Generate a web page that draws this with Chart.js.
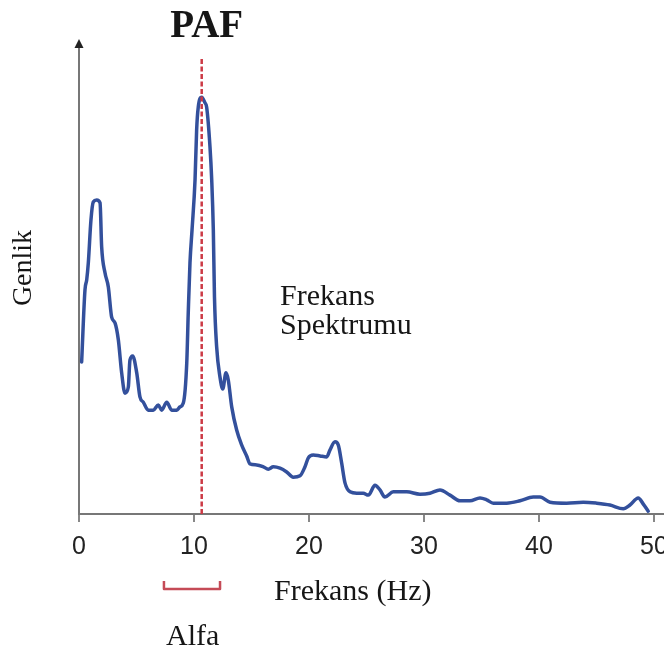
<!DOCTYPE html>
<html>
<head>
<meta charset="utf-8">
<title>Frekans Spektrumu</title>
<script src="https://cdn.jsdelivr.net/npm/chart.js@4/dist/chart.umd.min.js"></script>
<style>
  html, body { margin: 0; padding: 0; background: #fff; }
  #spectrum { display: block; }
</style>
</head>
<body>
<canvas id="spectrum" width="664" height="654"></canvas>
<script>
'use strict'

// frequency (Hz) and amplitude (0-100 scale) of the power spectrum
const freqHz = [
  0.23, 0.52, 0.67, 0.81, 1.04, 1.24, 1.54, 1.83, 1.97, 2.26,
  2.55, 2.84, 3.13, 3.42, 3.71, 4.0, 4.29, 4.43, 4.67, 5.02,
  5.3, 5.59, 6.03, 6.46, 6.9, 7.19, 7.63, 8.06, 8.5, 8.78,
  9.07, 9.37, 9.5, 9.65, 9.83, 10.09, 10.23, 10.37, 10.67, 10.96,
  11.1, 11.39, 11.54, 11.68, 11.78, 11.97, 12.26, 12.5, 12.78, 12.98,
  13.28, 13.71, 14.15, 14.58, 14.87, 15.45, 16.03, 16.46, 16.9, 17.48,
  18.06, 18.63, 19.22, 19.65, 19.94, 20.37, 20.96, 21.54, 21.83, 22.26,
  22.55, 22.84, 23.13, 23.57, 24.15, 24.72, 25.16, 25.74, 26.17, 26.6,
  27.33, 28.5, 29.65, 30.52, 31.39, 32.26, 33.13, 34.0, 34.87, 35.45,
  36.03, 37.19, 38.35, 39.5, 40.09, 40.96, 42.4, 43.85, 45.0, 46.17,
  47.33, 47.91, 48.63, 49.07, 49.5
]
const genlik = [
  32.2, 47.5, 49.6, 53.2, 62.3, 66.1, 66.5, 65.9, 56.6, 51.1,
  48.1, 41.7, 40.5, 36.9, 29.9, 25.6, 26.9, 32.6, 33.5, 29.9,
  24.8, 23.7, 22.0, 22.0, 23.1, 22.0, 23.7, 22.0, 22.0, 22.7,
  23.5, 32.0, 42.6, 53.2, 60.2, 70.8, 81.4, 86.2, 88.3, 87.1,
  86.2, 77.8, 70.8, 60.2, 46.0, 35.4, 29.0, 26.5, 29.9, 28.4,
  22.7, 17.8, 14.6, 12.3, 10.6, 10.4, 10.0, 9.5, 10.0, 9.7,
  8.9, 7.8, 8.1, 10.0, 11.9, 12.5, 12.3, 12.1, 13.6, 15.3,
  14.6, 10.8, 6.6, 4.7, 4.4, 4.4, 4.0, 6.1, 5.1, 3.6,
  4.7, 4.7, 4.2, 4.4, 5.1, 4.0, 2.8, 2.8, 3.4, 3.0,
  2.3, 2.3, 2.8, 3.6, 3.6, 2.5, 2.3, 2.5, 2.3, 1.9,
  1.1, 1.9, 3.4, 2.1, 0.6
]

// peak alpha frequency marker and the alpha band bracket
const pafHz = 10.67
const pafSpan = [0, 96.4]
const alfaBand = [7.3, 12.35]

const tickHz = [0, 10, 20, 30, 40, 50]

const SERIF = '"Liberation Serif", "Times New Roman", serif'
const SANS = '"Liberation Sans", Arial, sans-serif'


function toPoints (xs, ys) {
  return xs.map((x, i) => ({ x: x, y: ys[i] }))
}


// axis arrow, bracket and the free text labels
const decorPlugin = {
  id: 'decor',
  beforeDraw (chart) {
    const ctx = chart.ctx
    ctx.save()
    ctx.fillStyle = '#fff'
    ctx.fillRect(0, 0, chart.width, chart.height)
    ctx.restore()
  },
  afterDraw (chart) {
    const ctx = chart.ctx
    const xs = chart.scales.x
    const area = chart.chartArea
    ctx.save()

    // arrow head on the amplitude axis
    ctx.fillStyle = '#222'
    ctx.beginPath()
    ctx.moveTo(area.left, area.top - 3)
    ctx.lineTo(area.left - 4.5, area.top + 6)
    ctx.lineTo(area.left + 4.5, area.top + 6)
    ctx.closePath()
    ctx.fill()

    // alpha band bracket under the axis
    const b0 = xs.getPixelForValue(alfaBand[0])
    const b1 = xs.getPixelForValue(alfaBand[1])
    ctx.strokeStyle = '#c54b57'
    ctx.lineWidth = 2.5
    ctx.lineJoin = 'round'
    ctx.beginPath()
    ctx.moveTo(b0 + 1, 581)
    ctx.lineTo(b0 + 1, 589)
    ctx.lineTo(b1 - 1, 589)
    ctx.lineTo(b1 - 1, 581)
    ctx.stroke()

    ctx.fillStyle = '#161616'
    ctx.textBaseline = 'alphabetic'
    ctx.textAlign = 'center'
    ctx.font = 'bold 39px ' + SERIF
    ctx.fillText('PAF', xs.getPixelForValue(pafHz) + 5, 37)

    ctx.textAlign = 'left'
    ctx.font = '30px ' + SERIF
    ctx.fillText('Frekans', 280, 305)
    ctx.fillText('Spektrumu', 280, 334)
    ctx.fillText('Frekans (Hz)', 274, 600)
    ctx.fillText('Alfa', 166, 645)

    ctx.save()
    ctx.translate(31, 268)
    ctx.rotate(-Math.PI / 2)
    ctx.textAlign = 'center'
    ctx.font = '28px ' + SERIF
    ctx.fillText('Genlik', 0, 0)
    ctx.restore()

    ctx.restore()
  }
}


function drawSpectrum () {
  const ctx = document.getElementById('spectrum').getContext('2d')
  return new Chart(ctx, {
    type: 'line',
    data: {
      datasets: [{
        label: 'PAF',
        data: toPoints([pafHz, pafHz], pafSpan),
        borderColor: '#cc3a45',
        borderWidth: 2.5,
        borderDash: [5, 2.5],
        pointRadius: 0,
        fill: false
      }, {
        label: 'Frekans Spektrumu',
        data: toPoints(freqHz, genlik),
        borderColor: '#33509c',
        borderWidth: 3.5,
        borderJoinStyle: 'round',
        borderCapStyle: 'round',
        pointRadius: 0,
        cubicInterpolationMode: 'monotone',
        fill: false
      }]
    },
    options: {
      responsive: false,
      animation: false,
      layout: { padding: { top: 42, right: 0, left: 0, bottom: 0 } },
      plugins: {
        legend: { display: false },
        tooltip: { enabled: false }
      },
      scales: {
        x: {
          type: 'linear',
          min: 0,
          max: 50.87,
          afterBuildTicks: scale => {
            scale.ticks = tickHz.map(v => ({ value: v }))
          },
          afterFit: scale => {
            scale.height = 140
            scale.paddingLeft = 0
            scale.paddingRight = 0
          },
          grid: {
            display: true,
            drawOnChartArea: false,
            drawTicks: true,
            tickLength: 8,
            color: '#888',
            lineWidth: 2
          },
          border: { display: true, color: '#777', width: 2 },
          ticks: {
            autoSkip: false,
            maxRotation: 0,
            padding: 10,
            color: '#222',
            font: { family: SANS, size: 25 }
          }
        },
        y: {
          type: 'linear',
          min: 0,
          max: 100,
          afterFit: scale => {
            scale.width = 79
          },
          grid: { display: false },
          border: { display: true, color: '#777', width: 2 },
          ticks: { display: false }
        }
      }
    },
    plugins: [decorPlugin]
  })
}


drawSpectrum()
</script>
</body>
</html>
